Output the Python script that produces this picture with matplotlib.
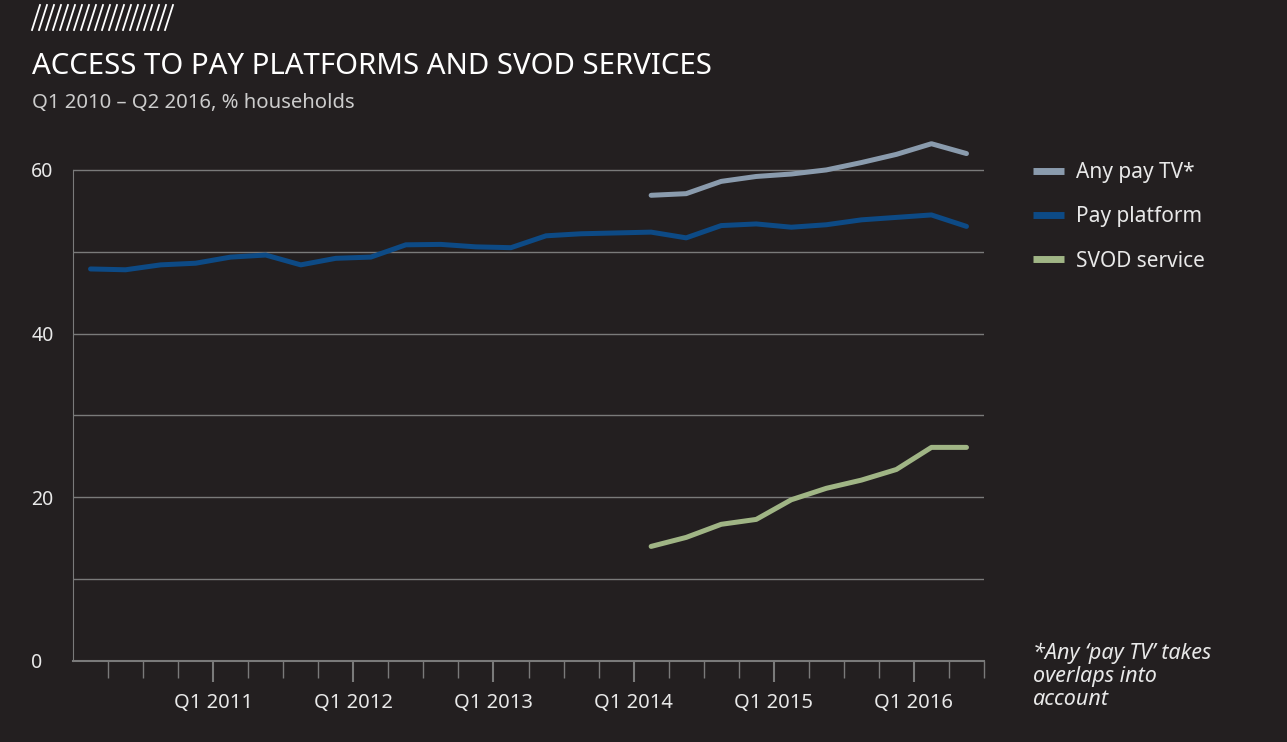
import numpy as np
import matplotlib
matplotlib.use('Agg')
import matplotlib.pyplot as plt
from matplotlib.lines import Line2D

# data: Q1 2010 .. Q2 2016 (26 quarters)
quarters = [f'Q{q} {y}' for y in range(2010, 2017) for q in range(1, 5)][:26]

pay_platform = [47.9, 47.8, 48.4, 48.6, 49.35, 49.6, 48.4, 49.2, 49.35, 50.85,
                50.9, 50.6, 50.5, 51.95, 52.2, 52.3, 52.4, 51.7, 53.2, 53.4,
                53.0, 53.3, 53.9, 54.2, 54.5, 53.1]
# these two start at Q1 2014
any_pay_tv = [56.9, 57.1, 58.6, 59.2, 59.5, 60.0, 60.9, 61.9, 63.2, 62.0]
svod = [14.0, 15.1, 16.7, 17.3, 19.7, 21.1, 22.1, 23.4, 26.1, 26.1]
start_2014 = quarters.index('Q1 2014')

series_names = ['Any pay TV*', 'Pay platform', 'SVOD service']
colors = ['#8a9bad', '#0d4a85', '#a0b585']

bg = '#231f20'
txt = '#e8e8e8'
grid_c = '#7a7a7a'

plt.rcParams['font.family'] = ['Noto Sans', 'DejaVu Sans']

fig = plt.figure(figsize=(12.87, 7.42), dpi=100, facecolor=bg)
ax = fig.add_axes([73 / 1287, 81 / 742, 911 / 1287, 532 / 742], facecolor=bg)

x_all = np.arange(len(quarters))
x_late = np.arange(start_2014, start_2014 + len(any_pay_tv))

ax.plot(x_late, any_pay_tv, color=colors[0], lw=3.6, solid_capstyle='round',
        solid_joinstyle='round', clip_on=False, label=series_names[0], zorder=3)
ax.plot(x_all, pay_platform, color=colors[1], lw=3.6, solid_capstyle='round',
        solid_joinstyle='round', clip_on=False, label=series_names[1], zorder=3)
ax.plot(x_late, svod, color=colors[2], lw=3.6, solid_capstyle='round',
        solid_joinstyle='round', clip_on=False, label=series_names[2], zorder=3)

ax.set_xlim(-0.5, 25.5)
ax.set_ylim(0, 65)

# y axis
ax.set_yticks([0, 20, 40, 60])
ax.set_yticks([10, 30, 50], minor=True)
ax.tick_params(axis='y', which='both', length=0, pad=30, labelsize=14,
               labelcolor=txt)
for lab in ax.get_yticklabels():
    lab.set_horizontalalignment('left')
ax.yaxis.grid(True, which='both', color=grid_c, lw=1)
ax.set_axisbelow(True)

# x axis
major_pos = [i - 0.5 for i in x_all if quarters[i].startswith('Q1') and i > 0]
major_lab = [quarters[int(p + 0.5)] for p in major_pos]
ax.set_xticks(major_pos)
ax.set_xticklabels(major_lab)
ax.set_xticks(np.arange(0.5, 26, 1), minor=True)
ax.tick_params(axis='x', which='major', length=15, width=1.5, color=grid_c,
               pad=8, labelsize=14.5, labelcolor=txt)
ax.tick_params(axis='x', which='minor', length=12, width=1, color=grid_c)

for s in ['top', 'right']:
    ax.spines[s].set_visible(False)
ax.spines['left'].set_color(grid_c)
ax.spines['left'].set_bounds(0, 60)
ax.spines['bottom'].set_color(grid_c)
ax.spines['bottom'].set_linewidth(1.5)

# legend
leg = ax.legend(loc='upper left', bbox_to_anchor=(1033 / 1287, 1 - 162 / 742),
                bbox_transform=fig.transFigure, frameon=False, fontsize=15,
                handlelength=1.5, handletextpad=0.58, labelspacing=1.12,
                borderpad=0, borderaxespad=0)
for t in leg.get_texts():
    t.set_color(txt)
for h in leg.legend_handles:
    h.set_linewidth(5)
    h.set_solid_capstyle('butt')

# titles
fig.text(32 / 1287, 1 - 66 / 742, 'ACCESS TO PAY PLATFORMS AND SVOD SERVICES',
         color='white', fontsize=21.2, fontweight='light', va='center')
fig.text(32 / 1287, 1 - 103 / 742, 'Q1 2010 – Q2 2016, % households',
         color='#cccccc', fontsize=14.6, fontweight='light', va='center')

# footnote
fig.text(1033 / 1287, 1 - 643 / 742, '*Any ‘pay TV’ takes\noverlaps into\naccount',
         color=txt, fontsize=15.5, style='italic', va='top', linespacing=1.12)

# hatched strip top-left
for k in range(20):
    x0 = 32 + k * 7
    fig.add_artist(Line2D([x0 / 1287, (x0 + 8) / 1287],
                          [1 - 30 / 742, 1 - 5 / 742],
                          transform=fig.transFigure, color='white', lw=1.3))

fig.savefig('out.png', dpi=100, facecolor=bg)
